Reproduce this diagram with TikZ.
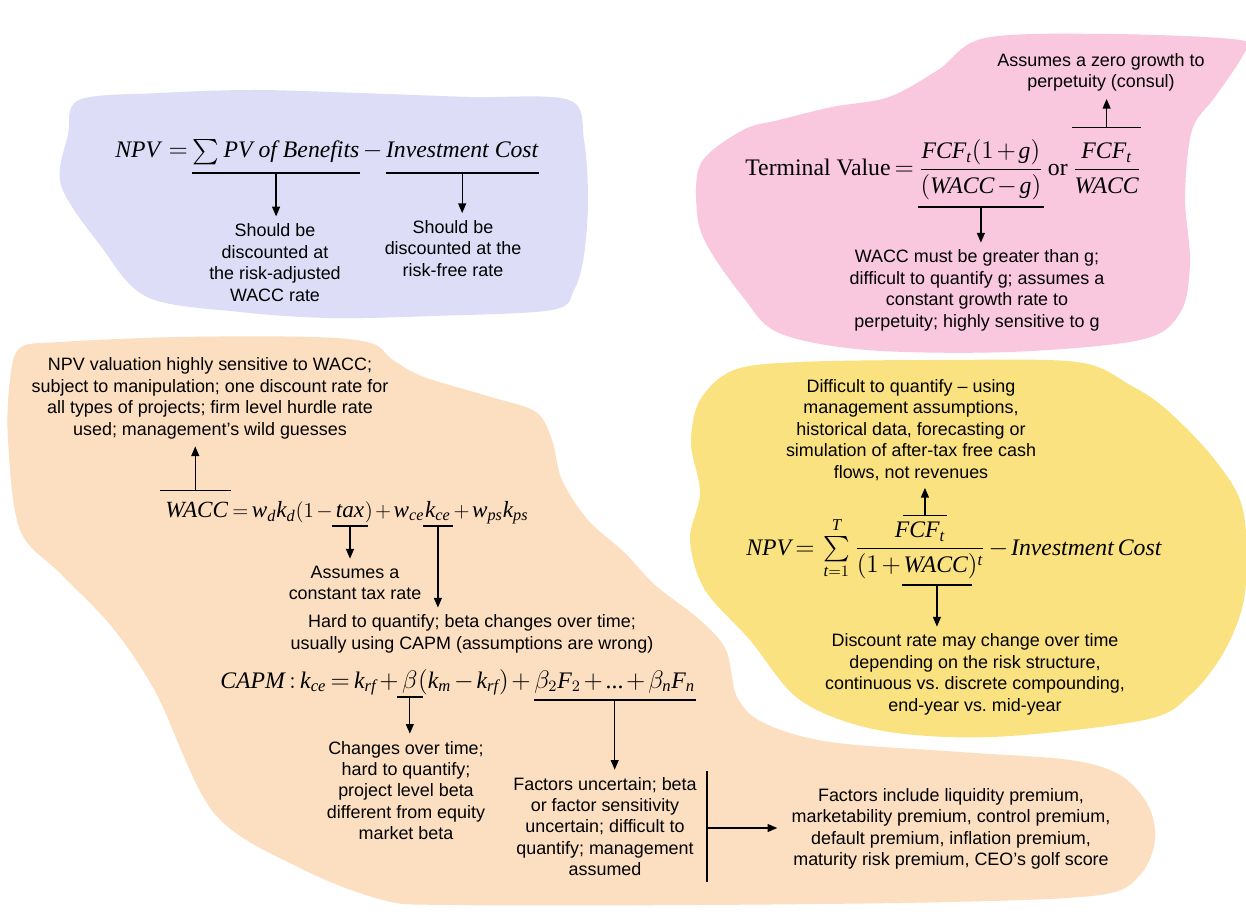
\documentclass[tikz,border=0pt]{standalone}
\usepackage{amsmath}
\usepackage{fontspec}
\setsansfont{Liberation Sans}
\newfontfamily\tnr{Liberation Serif}
\usetikzlibrary{arrows.meta, calc}

\definecolor{npvblue}{RGB}{221,221,247}
\definecolor{tvpink}{RGB}{249,199,222}
\definecolor{cfyellow}{RGB}{250,226,128}
\definecolor{waccpeach}{RGB}{252,223,193}

% italic Times-like letters inside formulas
\newcommand{\ti}[1]{\text{\tnr\itshape #1}}
% tighter spacing round = + - as in the equation editor
\newcommand{\tightmath}{\medmuskip=2mu\relax\thickmuskip=3mu\relax}

\begin{document}
\begin{tikzpicture}[x=0.02cm, y=-0.02cm]

% --- Define Styles ---
\tikzstyle{note} = [align=center, inner sep=3pt, font=\sffamily\fontsize{10.2}{12.2}\selectfont]
\tikzstyle{formula} = [inner sep=0pt, anchor=base west, font=\tnr\fontsize{13.5}{16}\selectfont\tightmath]
\tikzstyle{formulasm} = [formula, font=\tnr\fontsize{13.2}{16}\selectfont\tightmath]
\tikzstyle{uline} = [line width=0.7pt]
\tikzstyle{arrow} = [line width=0.7pt, -{Triangle[length=5.5pt,width=4.5pt]}, shorten >=1pt]

% --- Blobs ---
\path[use as bounding box, fill=white] (0,0) rectangle (1246,915);
\fill[waccpeach] plot[smooth cycle, tension=0.55] coordinates {(20,348) (60,342) (179,337) (313,337) (371,343) (393,360) (424,377) (491,397) (536,412) (552,440) (562,480) (588,520) (625,553) (655,585) (700,620) (726,650) (737,697) (764,723) (830,742) (960,752) (1070,760) (1120,775) (1148,805) (1155,840) (1140,875) (1100,895) (950,902) (700,905) (450,905) (383,900) (300,868) (214,813) (156,693) (112,627) (62,575) (20,530) (8,440) (10,380)};
\fill[cfyellow] plot[smooth cycle, tension=0.55] coordinates {(734,370) (800,362) (940,360) (1077,362) (1130,385) (1167,410) (1215,460) (1243,510) (1245,593) (1225,650) (1190,695) (1144,720) (992,737) (878,730) (800,700) (750,640) (705,590) (690,540) (700,493) (691,443) (700,400)};
\fill[tvpink] plot[smooth cycle, tension=0.55] coordinates {(985,38) (1110,34) (1240,40) (1243,55) (1215,97) (1192,130) (1185,197) (1190,263) (1180,313) (1140,340) (1009,352) (867,350) (779,333) (743,297) (708,247) (697,213) (701,163) (743,130) (779,120) (832,107) (889,97) (938,70)};
\fill[npvblue] plot[smooth cycle, tension=0.55] coordinates {(79,100) (160,93) (254,90) (360,93) (469,97) (569,100) (584,140) (588,200) (584,255) (574,290) (552,310) (433,316) (330,318) (240,312) (147,297) (100,245) (61,185) (68,135)};

% --- NPV (blue) ---
\node[formula] (bnpv) at (115,158) {$\ti{NPV}\;={}$};
\node[formula] (bpv) at (bnpv.base east) {$\sum \ti{PV of Benefits}$};
\node[formula] (bmin) at (bpv.base east) {${}-{}$};
\node[formula] (binv) at (bmin.base east) {$\ti{Investment Cost}$};
\node[note] (bnote1) at (275,262.5) {Should be\\discounted at\\the risk-adjusted\\WACC rate};
\node[note] (bnote2) at (453,248.5) {Should be\\discounted at the\\risk-free rate};

% --- Terminal value (pink) ---
\node[formula] (tvl) at (745,176) {Terminal Value\,$=$\,};
\node[formula] (tvfa) at (tvl.base east) {$\dfrac{\ti{FCF}_{\ti{t}}(1+\ti{g})}{(\ti{WACC}-\ti{g})}$};
\node[formula] (tvor) at (tvfa.base east) {\,or\,};
\node[formula] (tvfb) at (tvor.base east) {$\dfrac{\ti{FCF}_{\ti{t}}}{\ti{WACC}}$};
\node[note] (tvnote1) at (1101,72.5) {Assumes a zero growth to\\perpetuity (consul)};
\node[note] (tvnote2) at (977,290.5) {WACC must be greater than g;\\difficult to quantify g; assumes a\\constant growth rate to\\perpetuity; highly sensitive to g};

% --- Cash flow NPV (yellow) ---
\node[formula] (ynpv) at (746,555) {$\ti{NPV}={}\sum\limits_{\ti{t}=1}^{\ti{T}}\,$};
\node[formula] (yfr) at (ynpv.base east) {$\dfrac{\ti{FCF}_{\ti{t}}}{(1+\ti{WACC})^{\ti{t}}}$};
\node[formula] (yinv) at (yfr.base east) {${}-{}\ti{Investment\,Cost}$};
\node[note] (ynote1) at (911,430) {Difficult to quantify -- using\\management assumptions,\\historical data, forecasting or\\simulation of after-tax free cash\\flows, not revenues};
\node[note] (ynote2) at (975,674.5) {Discount rate may change over time\\depending on the risk structure,\\continuous vs.\ discrete compounding,\\end-year vs.\ mid-year};

% --- WACC and CAPM (peach) ---
\node[formulasm] (wacc) at (165,517) {$\ti{WACC}$};
\node[formulasm] (wa) at (wacc.base east) {${}=\ti{w}_{\ti{d}}\ti{k}_{\ti{d}}(1-{}$};
\node[formulasm] (wtax) at (wa.base east) {$\ti{tax}$};
\node[formulasm] (wb) at (wtax.base east) {$)+\ti{w}_{\ti{ce}}$};
\node[formulasm] (wkce) at (wb.base east) {$\ti{k}_{\ti{ce}}$};
\node[formulasm] (wc) at (wkce.base east) {${}+\ti{w}_{\ti{ps}}\ti{k}_{\ti{ps}}$};

\node[formula] (capa) at (220,688) {$\ti{CAPM}\,{:}\,\ti{k}_{\ti{ce}}=\ti{k}_{\ti{rf}}+{}$};
\node[formula] (cbeta) at (capa.base east) {$\beta$};
\node[formula] (capb) at (cbeta.base east) {$(\ti{k}_{\ti{m}}-\ti{k}_{\ti{rf}})+{}$};
\node[formula] (cfac) at (capb.base east) {$\beta_2\ti{F}_2+\text{\tnr...}+\beta_{\ti{n}}\ti{F}_{\ti{n}}$};

\node[note] (waccnote) at (210,398.5) {NPV valuation highly sensitive to WACC;\\subject to manipulation; one discount rate for\\all types of projects; firm level hurdle rate\\used; management’s wild guesses};
\node[note] (taxnote) at (355,583) {Assumes a\\constant tax rate};
\node[note] (kcenote) at (472,634) {Hard to quantify; beta changes over time;\\usually using CAPM (assumptions are wrong)};
\node[note] (betanote) at (406,790.5) {Changes over time;\\hard to quantify;\\project level beta\\different from equity\\market beta};
\node[note] (facnote) at (605,826.5) {Factors uncertain; beta\\or factor sensitivity\\uncertain; difficult to\\quantify; management\\assumed};
\node[note] (inclnote) at (951,829) {Factors include liquidity premium,\\marketability premium, control premium,\\default premium, inflation premium,\\maturity risk premium, CEO’s golf score};

% --- Under- and overlines ---
\draw[uline] ($(bpv.base west)+(0,15)$) -- ($(bpv.base east)+(0,15)$);
\draw[uline] ($(binv.base west)+(0,15)$) -- ($(binv.base east)+(0,15)$);
\coordinate (bpvu) at ($(bpv.base)+(0,15)$);
\coordinate (binvu) at ($(binv.base)+(0,15)$);

\draw[uline] ($(tvfa.south west)+(0,7)$) -- ($(tvfa.south east)+(0,7)$);
\draw[uline] ($(tvfb.north west)+(0,-15)$) -- ($(tvfb.north east)+(0,-15)$);
\coordinate (tvfau) at ($(tvfa.south)+(0,7)$);
\coordinate (tvfbo) at ($(tvfb.north)+(0,-15)$);

\draw[uline] ($(yfr.north)+(-17,-6)$) -- ($(yfr.north)+(27,-6)$);
\draw[uline] ($(yfr.south)+(-18,6)$) -- ($(yfr.south)+(52,6)$);
\coordinate (yfro) at ($(yfr.north)+(5,-6)$);
\coordinate (yfru) at ($(yfr.south)+(17,6)$);

\draw[uline] ($(wacc.north west)+(-5,-11)$) -- ($(wacc.north east)+(2,-11)$);
\draw[uline] ($(wtax.base west)+(-3,9)$) -- ($(wtax.base east)+(3,9)$);
\draw[uline] ($(wkce.base west)+(-2,9)$) -- ($(wkce.base east)+(2,9)$);
\coordinate (waccover) at ($(wacc.north)+(-1.5,-11)$);
\coordinate (wtaxu) at ($(wtax.base)+(0,9)$);
\coordinate (wkceu) at ($(wkce.base)+(0,9)$);

\draw[uline] ($(cbeta.base west)+(-5,9)$) -- ($(cbeta.base east)+(5,9)$);
\draw[uline] ($(cfac.base west)+(0,12)$) -- ($(cfac.base east)+(0,12)$);
\coordinate (cbetau) at ($(cbeta.base)+(0,9)$);
\coordinate (cfacu) at ($(cfac.base)+(0,12)$);

\coordinate (facbar) at (707,828);
\draw[uline] (facbar |- facnote.north) -- (facbar |- facnote.south);

% --- Arrows ---
\draw[arrow] (bpvu) -- (bpvu |- bnote1.north);
\draw[arrow] (binvu) -- (binvu |- bnote2.north);
\draw[arrow] (tvfbo) -- (tvfbo |- tvnote1.south);
\draw[arrow] (tvfau) -- (tvfau |- tvnote2.north);
\draw[arrow] (yfro) -- (yfro |- ynote1.south);
\draw[arrow] (yfru) -- (yfru |- ynote2.north);
\draw[arrow] (waccover) -- (waccover |- waccnote.south);
\draw[arrow] (wtaxu) -- (wtaxu |- taxnote.north);
\draw[arrow] (wkceu) -- (wkceu |- kcenote.north);
\draw[arrow] (cbetau) -- (cbetau |- betanote.north);
\draw[arrow] (cfacu) -- (cfacu |- facnote.north);
\draw[arrow, shorten >=5pt] (facbar) -- (facbar -| inclnote.west);

\end{tikzpicture}
\end{document}
